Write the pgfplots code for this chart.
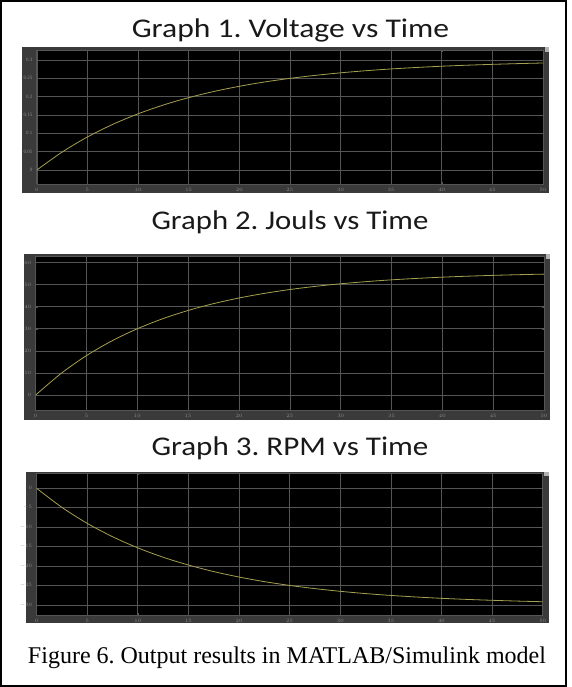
\documentclass[border=0pt]{standalone}
\usepackage{fontspec}
\setmainfont{Liberation Serif}
\newfontfamily\titlefont{Carlito}
\usepackage{graphicx}
\usepackage{pgfplots}
\pgfplotsset{compat=1.18}
\frenchspacing
\definecolor{panelgray}{RGB}{58,58,58}
\definecolor{gridgray}{RGB}{85,85,85}
\definecolor{curvecol}{RGB}{165,160,80}
\definecolor{ticktext}{RGB}{140,140,140}
\pgfplotsset{
  scopestyle/.style={
    scale only axis,
    anchor=north west,
    xmin=0, xmax=50,
    xtick={0,5,...,50},
    axis background/.style={fill=black},
    axis line style={draw=gridgray, line width=0.5pt},
    grid=major,
    major grid style={draw=gridgray, line width=0.7pt},
    tick style={draw=gridgray, line width=0.5pt},
    major tick length=2pt,
    tick align=inside,
    ticklabel style={font=\fontsize{5}{6}\selectfont, text=ticktext},
    xticklabel style={yshift=-1pt},
    yticklabel style={xshift=-1pt},
    scaled y ticks=false,
  },
  curvestyle/.style={color=curvecol, line width=0.8pt, smooth, no marks},
}
\begin{document}
\begin{tikzpicture}
\useasboundingbox (0pt,0pt) rectangle (571pt,-687pt);
\fill[white] (0pt,0pt) rectangle (571pt,-687pt);
\draw[black, line width=2pt] (1pt,-1pt) rectangle (566pt,-685.5pt);
% titles
\node[anchor=base, text={rgb,255:red,25;green,25;blue,25}, inner sep=0pt] at (290.5pt,-37.3pt) {\scalebox{1.17}[1]{\fontsize{27}{30}\selectfont\titlefont Graph 1. Voltage vs Time}};
\node[anchor=base, text={rgb,255:red,25;green,25;blue,25}, inner sep=0pt] at (290pt,-229.3pt) {\scalebox{1.14}[1]{\fontsize{27}{30}\selectfont\titlefont Graph 2. Jouls vs Time}};
\node[anchor=base, text={rgb,255:red,25;green,25;blue,25}, inner sep=0pt] at (290pt,-455pt) {\scalebox{1.15}[1]{\fontsize{27}{30}\selectfont\titlefont Graph 3. RPM vs Time}};
\node[anchor=base, inner sep=0pt] at (287pt,-663.3pt) {\fontsize{24}{28}\selectfont Figure 6. Output results in MATLAB/Simulink model};
% panels
\fill[panelgray] (21.7pt,-47.3pt) rectangle (549pt,-192.7pt);
\fill[panelgray] (24pt,-254.3pt) rectangle (550pt,-420pt);
\fill[panelgray] (25.7pt,-471.7pt) rectangle (548.7pt,-623.3pt);
\fill[gray!60] (544.5pt,-47.3pt) rectangle (549pt,-52pt);
\fill[gray!60] (545.5pt,-254.3pt) rectangle (550pt,-259pt);
\fill[gray!60] (544.2pt,-471.7pt) rectangle (548.7pt,-476.4pt);

% Graph 1
\begin{axis}[scopestyle, at={(36.8pt,-50pt)}, width=506.2pt, height=134pt,
  ymin=-0.038, ymax=0.327,
  ytick={0,0.05,0.1,0.15,0.2,0.25,0.3},
  yticklabels={0,0.05,0.1,0.15,0.2,0.25,0.3}]
\addplot[curvestyle] coordinates {
(0,0) (2.5,0.0490) (5,0.0901) (7.5,0.1244) (10,0.1531) (12.5,0.1772)
(15,0.1972) (17.5,0.2141) (20,0.2281) (22.5,0.2399) (25,0.2497)
(27.5,0.2579) (30,0.2648) (32.5,0.2706) (35,0.2754) (37.5,0.2794)
(40,0.2828) (42.5,0.2856) (45,0.2879) (47.5,0.2899) (50,0.2916)};
\end{axis}

% Graph 2
\begin{axis}[scopestyle, at={(35.7pt,-256.7pt)}, width=508.3pt, height=153.3pt,
  ymin=-6.8, ymax=62.7,
  ytick={0,10,20,30,40,50,60}]
\addplot[curvestyle] coordinates {
(0,0) (2.5,9.79) (5,17.88) (7.5,24.55) (10,30.05) (12.5,34.59)
(15,38.34) (17.5,41.43) (20,43.98) (22.5,46.08) (25,47.82)
(27.5,49.25) (30,50.43) (32.5,51.40) (35,52.21) (37.5,52.87)
(40,53.42) (42.5,53.87) (45,54.24) (47.5,54.55) (50,54.80)};
\end{axis}

% Graph 3
\begin{axis}[scopestyle, at={(36.6pt,-473pt)}, width=506.1pt, height=142pt,
  ymin=-32.57, ymax=3.93,
  ytick={-30,-25,-20,-15,-10,-5,0}]
\addplot[curvestyle] coordinates {
(0,0) (2.5,-4.90) (5,-9.01) (7.5,-12.44) (10,-15.31) (12.5,-17.72)
(15,-19.72) (17.5,-21.41) (20,-22.81) (22.5,-23.99) (25,-24.97)
(27.5,-25.79) (30,-26.48) (32.5,-27.06) (35,-27.54) (37.5,-27.94)
(40,-28.28) (42.5,-28.56) (45,-28.79) (47.5,-28.99) (50,-29.16)};
\end{axis}
\end{tikzpicture}
\end{document}
